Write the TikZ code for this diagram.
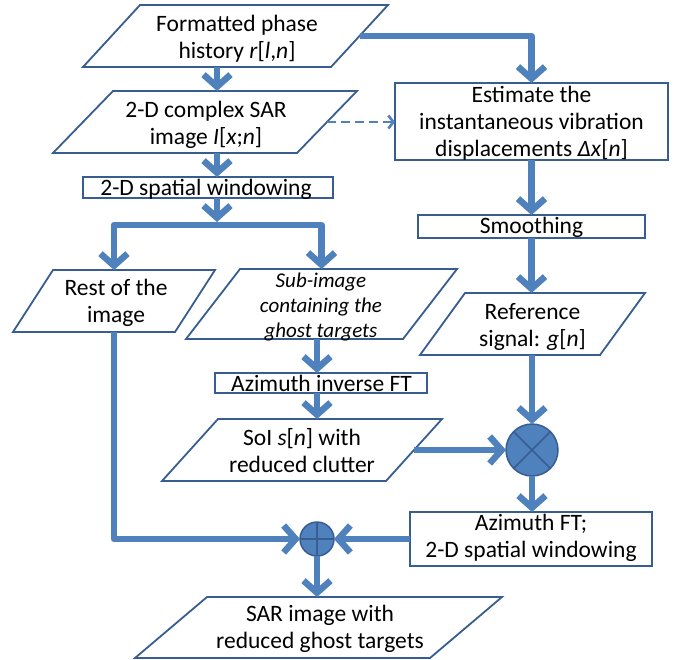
\documentclass[tikz,border=0pt]{standalone}
\usepackage{fontspec}
\setmainfont{Carlito}
\usetikzlibrary{arrows.meta,calc}
\definecolor{arrowblue}{RGB}{79,129,189}
\definecolor{edgeblue}{RGB}{56,93,145}
\tikzset{
  shapebox/.style={draw=none, inner sep=0pt, outer sep=0pt},
  rectbox/.style={draw=edgeblue, line width=1.8pt, inner sep=0pt, outer sep=0pt},
  txt/.style={inner sep=0pt, align=center, font=\fontsize{23.5}{27}\selectfont, text=black},
  itxt/.style={inner sep=0pt, align=center, font=\fontsize{21}{25}\selectfont\itshape, text=black},
  outline/.style={draw=edgeblue, line width=1.8pt, line join=miter},
  arr/.style={draw=arrowblue, line width=6.5pt, line join=round, -{Straight Barb[length=12pt,width=27pt]}},
  dasharr/.style={draw=arrowblue, line width=2.6pt, dash pattern=on 9pt off 5pt, -{Straight Barb[length=5pt,width=13pt]}},
  sumnode/.style={circle, draw=edgeblue, fill=arrowblue, line width=1.5pt, inner sep=0pt, outer sep=0pt},
  signline/.style={draw=edgeblue, line width=1.5pt},
}
\newcommand\drawpara[2]{\draw[outline] ([xshift=#2]#1.north west) -- (#1.north east) -- ([xshift=-#2]#1.south east) -- (#1.south west) -- cycle;}
\begin{document}
\begin{tikzpicture}[x=1pt,y=-1pt]
\useasboundingbox[fill=white] (0,0) rectangle (676,659);
% shapes
\node[shapebox, minimum width=305pt, minimum height=62pt] (fmt) at (235.5,36) {};
\node[shapebox, minimum width=304pt, minimum height=62pt] (cplx) at (205,122) {};
\node[rectbox, minimum width=250pt, minimum height=21pt] (win) at (208,187.5) {};
\node[shapebox, minimum width=202pt, minimum height=62pt] (rest) at (114,301) {};
\node[shapebox, minimum width=271pt, minimum height=70pt] (sub) at (321.5,304) {};
\node[rectbox, minimum width=212pt, minimum height=20pt] (azinv) at (321,383) {};
\node[shapebox, minimum width=280pt, minimum height=62pt] (soi) at (302,450) {};
\node[shapebox, minimum width=367pt, minimum height=61pt] (final) at (318.5,627.5) {};
\node[rectbox, minimum width=273pt, minimum height=77pt] (est) at (531.5,121.5) {};
\node[rectbox, minimum width=227pt, minimum height=23pt] (smooth) at (531.5,226.5) {};
\node[shapebox, minimum width=225pt, minimum height=62pt] (ref) at (532.5,324) {};
\node[rectbox, minimum width=242pt, minimum height=54pt] (aft) at (531,539) {};
\node[sumnode, minimum size=52pt] (mult) at (532,450) {};
\node[sumnode, minimum size=34pt] (plus) at (317,539) {};
\drawpara{fmt}{57pt}
\drawpara{cplx}{60pt}
\drawpara{rest}{40pt}
\drawpara{sub}{54pt}
\drawpara{soi}{56pt}
\drawpara{final}{72pt}
\drawpara{ref}{45pt}
\draw[signline] (mult.north east) -- (mult.south west) (mult.north west) -- (mult.south east);
\draw[signline] (plus.north) -- (plus.south) (plus.west) -- (plus.east);
% texts
\node[txt] (fmtT) at (237,39) {Formatted phase\\history \textit{r}[\textit{l},\textit{n}]};
\node[txt] (cplxT) at (206,125) {2-D complex SAR\\image \textit{I}[\textit{x};\textit{n}]};
\node[txt, anchor=base] (winT) at (206,195) {2-D spatial windowing};
\node[txt] (restT) at (116,302.5) {Rest of the\\image};
\node[itxt] (subT) at (321,307) {Sub-image\\containing the\\ghost targets};
\node[txt, anchor=base] (azinvT) at (321.5,391) {Azimuth inverse FT};
\node[txt] (soiT) at (302,450.5) {SoI \textit{s}[\textit{n}] with\\reduced clutter};
\node[txt] (finalT) at (320,629) {SAR image with\\reduced ghost targets};
\node[txt] (estT) at (531.5,123.5) {Estimate the\\instantaneous vibration\\displacements \textit{Δx}[\textit{n}]};
\node[txt, anchor=base] (smoothT) at (531.5,233) {Smoothing};
\node[txt] (refT) at (532.5,326.5) {Reference\\signal: \textit{g}[\textit{n}]};
\node[txt] (aftT) at (531,537.5) {Azimuth FT;\\2-D spatial windowing};
% connectors
\coordinate (colA) at (217,0);
\coordinate (colB) at (317,0);
\coordinate (split) at (217,225);
\draw[arr] (fmt.south -| colA) -- (cplx.north -| colA);
\draw[arr] (cplx.south -| colA) -- (win.north -| colA);
\draw[arr] (win.south -| colA) -- ([yshift=3pt]split);
\draw[arr] (split) -| (rest.north);
\draw[arr] (split) -| (sub.north);
\draw[arr] (sub.south -| colB) -- (azinv.north -| colB);
\draw[arr] (azinv.south -| colB) -- (soi.north -| colB);
\draw[arr] ([xshift=-28pt]soi.east) -- (mult.west);
\draw[arr] ([xshift=-28.5pt]fmt.east) -| (est.north);
\draw[dasharr] ([xshift=-30pt]cplx.east) -- (cplx.east -| est.west);
\draw[arr] (est.south) -- (smooth.north);
\draw[arr] (smooth.south) -- (ref.north -| smooth.south);
\draw[arr] (ref.south -| mult.north) -- (mult.north);
\draw[arr] (mult.south) -- (aft.north -| mult.south);
\draw[arr] (aft.west) -- (plus.east);
\draw[arr] (rest.south) |- (plus.west);
\draw[arr] (plus.south) -- (plus.south |- final.north);
\end{tikzpicture}
\end{document}
